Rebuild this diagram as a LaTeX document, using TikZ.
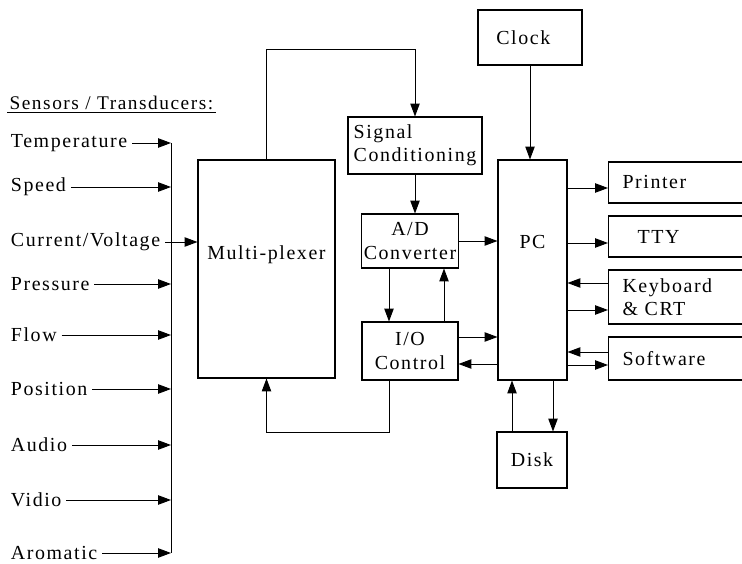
\documentclass[tikz,border=0pt]{standalone}
\usepackage{fontspec}
\setmainfont{Liberation Serif}[LetterSpace=8]
\usetikzlibrary{arrows.meta,positioning}

\begin{document}
\begin{tikzpicture}[
    x=0.03cm, y=-0.03cm,
    >={Triangle[length=11pt,width=8pt]},
    font=\fontsize{17}{20}\selectfont,
    box/.style={
        draw,
        line width=0.9pt,
        align=center,
        inner sep=2pt
    },
    outbox/.style={
        box,
        anchor=west,
        text width=4.2cm,
        align=left,
        inner xsep=0.42cm
    },
    sensor/.style={anchor=west, inner sep=4pt},
    wire/.style={line width=0.8pt}
]
\useasboundingbox (0,0) rectangle (742,564);
\clip (0,0) rectangle (742,564);

% sensors
\node[anchor=west, inner sep=2pt, font=\fontsize{16.5}{20}\selectfont] (hdr) at (7,103) {Sensors / Transducers:};
\draw[wire] (hdr.south west) -- (hdr.south east);

\node[sensor] (temp) at (6,143) {Temperature};
\node[sensor] (speed) at (6,187) {Speed};
\node[sensor] (curr) at (6,242) {Current/Voltage};
\node[sensor] (pres) at (6,284) {Pressure};
\node[sensor] (flow) at (6,335) {Flow};
\node[sensor] (posn) at (6,389) {Position};
\node[sensor] (audio) at (6,445) {Audio};
\node[sensor] (vidio) at (6,500) {Vidio};
\node[sensor] (arom) at (6,553) {Aromatic};

\coordinate (bustop) at (171,143);
\coordinate (busbot) at (171,553);
\draw[wire] (bustop) -- (busbot);

% blocks
\node[box, minimum width=4.11cm, minimum height=6.54cm,
      label={[name=muxlbl, yshift=0.42cm]center:Multi-plexer}] (mux) at (266.5,269) {};
\node[box, minimum width=4.02cm, minimum height=1.71cm, align=left] (sig) at (415,145.5) {Signal\\Conditioning};
\node[box, minimum width=2.88cm, minimum height=1.62cm] (adc) at (410,241) {A/D\\Converter};
\node[box, minimum width=2.88cm, minimum height=1.74cm] (ioc) at (410,351) {I/O\\Control};
\node[box, minimum width=2.07cm, minimum height=6.6cm,
      label={[name=pclbl, yshift=0.84cm]center:PC}] (pc) at (532.5,270) {};
\node[box, minimum width=3.12cm, minimum height=1.65cm] (clock) at (530,37.5) {\hspace*{-0.4cm}Clock};
\node[box, minimum width=2.1cm, minimum height=1.68cm] (disk) at (532,460) {Disk};

\node[outbox, minimum height=1.23cm] (prn) at (608,182.5) {Printer};
\node[outbox, minimum height=1.23cm] (tty) at (608,236.5) {\hspace*{0.45cm}TTY};
\node[outbox, minimum height=1.62cm] (kbd) at (608,297) {Keyboard\\\& CRT};
\node[outbox, minimum height=1.29cm] (soft) at (608,358.5) {Software};

% sensor arrows
\draw[->, wire] (temp.east) -- (temp.east -| bustop);
\draw[->, wire] (speed.east) -- (speed.east -| bustop);
\draw[->, wire] (curr.east) -- (curr.east -| mux.west);
\draw[->, wire] (pres.east) -- (pres.east -| bustop);
\draw[->, wire] (flow.east) -- (flow.east -| bustop);
\draw[->, wire] (posn.east) -- (posn.east -| bustop);
\draw[->, wire] (audio.east) -- (audio.east -| bustop);
\draw[->, wire] (vidio.east) -- (vidio.east -| bustop);
\draw[->, wire] (arom.east) -- (arom.east -| bustop);

% data path
\draw[->, wire] (mux.north) -- (mux.north |- 0,49) -| (sig.north);
\draw[->, wire] (sig.south) -- (sig.south |- adc.north);
\draw[->, wire] ([xshift=-0.63cm]adc.south) -- ([xshift=-0.63cm]ioc.north);
\draw[->, wire] ([xshift=1.02cm]ioc.north) -- ([xshift=1.02cm]adc.south);
\draw[->, wire] (adc.east) -- (adc.east -| pc.west);
\draw[->, wire] (ioc.east |- 0,337) -- (pc.west |- 0,337);
\draw[->, wire] (pc.west |- 0,364) -- (ioc.east |- 0,364);
\draw[->, wire] ([xshift=-0.63cm]ioc.south) -- ++(0,52) -| (mux.south);

% PC peripherals
\draw[->, wire] (clock.south) -- (clock.south |- pc.north);
\draw[->, wire] (pc.east |- 0,188) -- (prn.west |- 0,188);
\draw[->, wire] (pc.east |- 0,243) -- (tty.west |- 0,243);
\draw[->, wire] (kbd.west |- 0,283) -- (pc.east |- 0,283);
\draw[->, wire] (pc.east |- 0,310) -- (kbd.west |- 0,310);
\draw[->, wire] (soft.west |- 0,352) -- (pc.east |- 0,352);
\draw[->, wire] (pc.east |- 0,365) -- (soft.west |- 0,365);
\draw[->, wire] (disk.north -| 512,0) -- (pc.south -| 512,0);
\draw[->, wire] (pc.south -| 553,0) -- (disk.north -| 553,0);
\end{tikzpicture}
\end{document}
